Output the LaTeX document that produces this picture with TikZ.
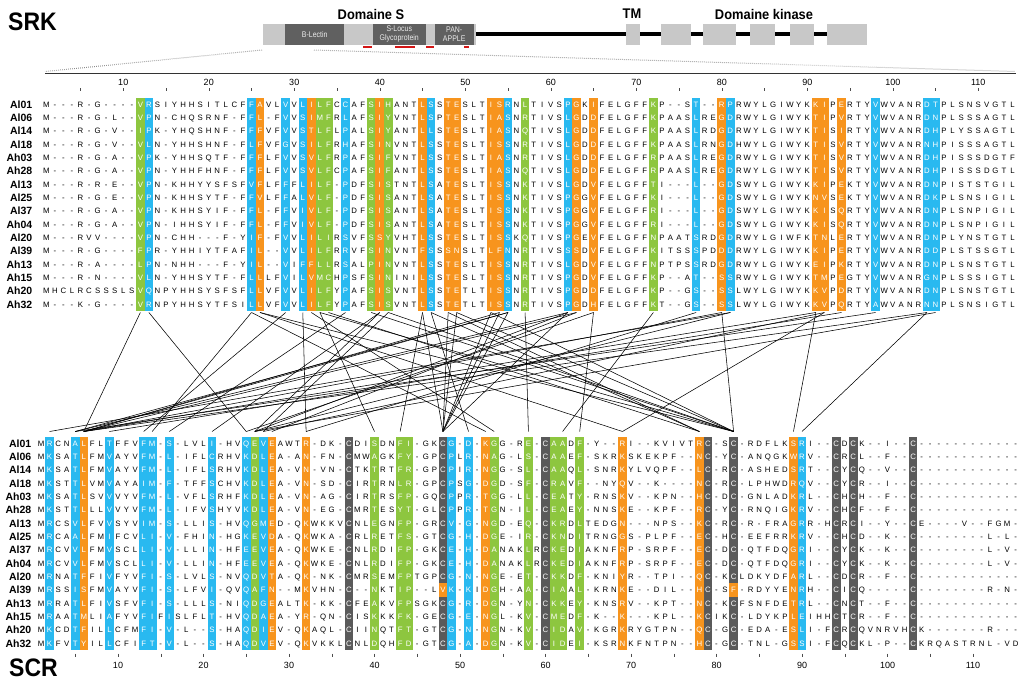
\documentclass[tikz,border=0pt]{standalone}
\usepackage{fontspec}
\setmainfont{Liberation Sans}
\setsansfont{Liberation Sans}
\definecolor{sgreen}{RGB}{141,198,63}
\definecolor{sblue}{RGB}{41,185,240}
\definecolor{sorange}{RGB}{247,148,29}
\definecolor{sgray}{RGB}{90,90,90}
\definecolor{barlight}{RGB}{200,200,200}
\definecolor{bardark}{RGB}{96,96,96}
\definecolor{redmark}{RGB}{210,20,20}
\newcommand\seqfont{\fontsize{7.8}{8}\selectfont}
\newcommand\labfont{\bfseries\fontsize{10.5}{11}\selectfont}
\newcommand\rulfont{\fontsize{9}{9}\selectfont}
\newcount\seqpos
\newcount\seqrow
\def\xzerot{37.75}
\def\xzerob{32.5}
\def\yzerot{104.3}
\def\yzerob{443.3}
\def\drawseq#1#2#3{\def\seqside{#1}\seqrow=#2\relax\seqpos=0\relax
  \pgfmathsetmacro\rowy{\csname yzero#1\endcsname+13.333*(#2-1)}%
  \drawseqA#3\relax}
\def\drawseqA#1{\ifx#1\relax\let\seqnext\relax\else\def\seqnext{\placechar{#1}\drawseqA}\fi\seqnext}
\def\placechar#1{\advance\seqpos by 1\relax
  \ifcsname col\seqside\the\seqpos\endcsname\def\chcol{white}\else\def\chcol{black}\fi
  \pgfmathsetmacro\chx{\csname xzero\seqside\endcsname+8.55*\the\seqpos}%
  \node[seqch,text=\chcol] (\seqside\the\seqrow-\the\seqpos) at (\chx,\rowy+2.8) {#1};}
\begin{document}
\begin{tikzpicture}[x=1pt,y=-1pt,
  seqch/.style={anchor=base,inner sep=0pt,outer sep=0pt,font=\seqfont},
  lab/.style={anchor=base east,inner sep=0pt,font=\labfont},
  rulnum/.style={anchor=base,inner sep=0pt,font=\rulfont},
  conn/.style={line width=0.55pt,black},
  tickmark/.style={line width=0.5pt,black!70},
  dotline/.style={line width=1pt,black!45,dash pattern=on 0.7pt off 1.3pt},
  boxlab/.style={inner sep=0pt,align=center,text=black!8,font=\fontsize{8.2}{8.6}\selectfont},
  head/.style={inner sep=0pt,font=\bfseries\fontsize{14}{14}\selectfont},
  big/.style={inner sep=0pt,anchor=base west,font=\bfseries\fontsize{23}{23}\selectfont}]
\useasboundingbox (0,0) rectangle (1024,683);
\fill[white] (0,0) rectangle (1024,683);
% ---------- header ----------
\node[big] (srk) at (8,30) {\scalebox{1}[1.1]{SRK}};
\node[big] (scr) at (9,676) {\scalebox{1}[1.1]{SCR}};
\node[head] (domS) at (371,14) {\scalebox{0.92}[1]{Domaine S}};
\node[head] (tm) at (632,14) {\scalebox{0.92}[1]{TM}};
\node[head] (domK) at (764,14) {\scalebox{0.92}[1]{Domaine kinase}};
\draw[line width=3.5pt] (476,34.2) -- (827,34.2);
\fill[barlight] (263,24) rectangle (476,44.5);
\fill[barlight] (625.5,24) rectangle (640,44.5);
\fill[barlight] (661,24) rectangle (691,44.5);
\fill[barlight] (703,24) rectangle (736,44.5);
\fill[barlight] (749.5,24) rectangle (775,44.5);
\fill[barlight] (790,24) rectangle (814,44.5);
\fill[barlight] (826.6,24) rectangle (867,44.5);
\fill[bardark] (285.4,24) rectangle (344,44.5);
\fill[bardark] (373,24) rectangle (425.6,44.5);
\fill[bardark] (434.5,24) rectangle (474,44.5);
\node[boxlab] (blec) at (314.7,34.2) {\scalebox{0.85}[1]{B-Lectin}};
\node[boxlab] (sloc) at (399.3,34.2) {\scalebox{0.85}[1]{S-Locus}\\\scalebox{0.85}[1]{Glycoprotein}};
\node[boxlab] (pan) at (454.2,34.2) {\scalebox{0.85}[1]{PAN-}\\\scalebox{0.85}[1]{APPLE}};
\fill[redmark] (363,46) rectangle (372,48);
\fill[redmark] (395,46) rectangle (414.7,48);
\fill[redmark] (425.6,46) rectangle (433.7,48);
\fill[redmark] (464,46) rectangle (469,48);
\coordinate (dl1) at (262,50); \coordinate (dl2) at (45,71.5);
\coordinate (dr1) at (314,50); \coordinate (dr2) at (1015,71.5);
\draw[dotline] (dl1) -- (dl2);
\draw[dotline] (dr1) -- (dr2);
\coordinate (rl1) at (45,73.6); \coordinate (rl2) at (1016,73.6);
\draw[line width=1.4pt,black!80] (rl1) -- (rl2);
% ---------- rulers ----------
\foreach \n in {10,20,...,110} {
  \node[rulnum] (rt\n) at ({37.75+8.55*\n},85.6) {\n};
  \node[rulnum] (rb\n) at ({32.5+8.55*\n},668) {\n};}
\foreach \n in {5,10,...,110} {
  \draw[tickmark] ({37.75+8.55*\n},88.3) -- ({37.75+8.55*\n},91);
  \draw[tickmark] ({32.5+8.55*\n},653.7) -- ({32.5+8.55*\n},657);}
% ---------- coloured columns ----------
\foreach \p/\c in {12/sgreen,13/sblue,25/sblue,26/sorange,29/sblue,31/sblue,32/sorange,33/sgreen,34/sgreen,36/sblue,39/sgreen,40/sorange,41/sgreen,45/sorange,46/sblue,48/sorange,49/sorange,53/sorange,54/sorange,55/sblue,57/sgreen,62/sblue,63/sorange,65/sorange,72/sgreen,77/sblue,80/sorange,81/sblue,91/sorange,92/sorange,94/sorange,98/sblue,104/sblue,105/sblue} {
  \fill[\c] ({37.75+8.55*\p-4.3},97.6) rectangle ({37.75+8.55*\p+4.3},311);
  \expandafter\xdef\csname colt\p\endcsname{\c}
  \coordinate (T\p) at ({37.75+8.55*\p},312.5);}
\foreach \p/\c in {2/sblue,5/sblue,6/sorange,9/sblue,13/sblue,14/sblue,16/sblue,21/sblue,25/sblue,26/sgreen,27/sblue,28/sorange,32/sorange,37/sgray,40/sgreen,43/sgreen,44/sgreen,48/sgray,49/sblue,51/sblue,53/sorange,54/sgreen,58/sgreen,60/sgray,61/sgreen,62/sgreen,64/sgreen,69/sorange,78/sorange,79/sgray,82/sgray,89/sorange,90/sblue,94/sgray,96/sgray,103/sgray} {
  \fill[\c] ({32.5+8.55*\p-4.3},436.6) rectangle ({32.5+8.55*\p+4.3},650);
  \expandafter\xdef\csname colb\p\endcsname{\c}
  \coordinate (B\p) at ({32.5+8.55*\p},431.5);}
% exceptions (row Al39 of SCR)
\fill[sorange] ({32.5+8.55*48-4.3},{443.3+13.333*11-6.67}) rectangle ({32.5+8.55*48+4.3},{443.3+13.333*11+6.67});
\fill[sorange] ({32.5+8.55*82-4.3},{443.3+13.333*11-6.67}) rectangle ({32.5+8.55*82+4.3},{443.3+13.333*11+6.67});
% ---------- labels ----------
\foreach \n [count=\i] in {Al01,Al06,Al14,Al18,Ah03,Ah28,Al13,Al25,Al37,Ah04,Al20,Al39,Ah13,Ah15,Ah20,Ah32} {
  \node[lab] (lt\i) at (32.5,{104.3+13.333*(\i-1)+3.75}) {\n};
  \node[lab] (lb\i) at (31.5,{443.3+13.333*(\i-1)+3.75}) {\n};}
% ---------- SRK sequences ----------
\drawseq{t}{1}{M---R-G---- VRSIYHHSITLCF FAVLVVLILFCC AFSIHANTLSSTESLTISRNLTIVSPGKIFELGFF KP--ST--RP RWYLGIWYK KIPERTYV WVANR DTPLSNSVGTL}
\drawseq{t}{2}{M---R-G-L-- VPN-CHQSRNF-F FL-FVVSIMFRL AFSIYVNTLSPTESLTIASNRTIVSLGDDFELGFF KPAASLREGD RWYLGIWYK TIPVRTYV WVANR DNPLSSSAGTL}
\drawseq{t}{3}{M---R-G-V-- IPK-YHQSHNF-F FFVFVVSTLFLP ALSIYANTLLSTESLTIASNQTIVSLGDDFELGFF KPAASLRDGD RWYLGIWYK TISIRTYV WVANR DHPLYSSAGTL}
\drawseq{t}{4}{M---R-G-V-- VLN-YHHSHNF-F LFVFGVSILFRH AFSINVNTLSSTESLTISSNRTIVSLGDDFELGFF KPAASLRNGD HWYLGIWYK TISVRTYV WVANR NHPISSSAGTL}
\drawseq{t}{5}{M---R-G-A-- VPK-YHHSQTF-F FFLFVVSVLFRP AFSIFVNTLSSTESLTIASNRTIVSLGDDFELGFF RPAASLREGD RWYLGIWYK TISVRTYV WVANR DHPISSSDGTF}
\drawseq{t}{6}{M---R-G-A-- VPN-YHHFHNF-F FFLFVVSVLFCP AFSIFANTLSSTESLTIASNQTIVSLGDDFELGFF RPAASLREGD RWYLGIWYK TISVRTYV WVANR DHPISSSDGTL}
\drawseq{t}{7}{M---R-R-E-- VPN-KHHYYSFSF VFLFFFLILF-P DFSISTNTLSATESLTISSNKTIVSLGDVFELGFF TI---L--GD SWYLGIWYK KIPEKTYV WVANR DNPISTSTGIL}
\drawseq{t}{8}{M---R-G-E-- VPN-KHHSYTF-F FVLFFALVLF-P DFSISANTLSATESLTISSNKTIVSPGGVFELGFF KI---L--GD SWYLGIWYK NVSEKTYV WVANR DKPLSNSIGIL}
\drawseq{t}{9}{M---R-G-A-- VPN-KHHSYIF-F FL-FFVIVLF-P DFSISANTLSATESLTISSNKTIVSPGGVFELGFF RI---L--GD SWYLGIWYK KISQRTYV WVANR DNPLSNPIGIL}
\drawseq{t}{10}{M---R-G-A-- VPN-IHHSYIF-F FL-FFVIVLF-P DFSISANTLSATESLTISSNKTIVSPGGVFELGFF RI---L--GD SWYLGIWYK KISQRTYV WVANR DNPLSNPIGIL}
\drawseq{t}{11}{M---RVV---- VPN-CHH---F-Y IF-FVVLILIRS VFSSYVHTLSSTESLTISSKQTIVSPGEVFELGFF NPAATSRDGD RWYLGIWFK TNLERTYV WVANR DNPLYNSTGTL}
\drawseq{t}{12}{M---R-G---- FPR-YHHIYTFAF IL--VVLILFRR VFSINVNTFSSSNSLTLFNNRTIVSSSDVFELGFF KITSSSPDDD RWYLGIWYK KIPERTYV WVANR DDPLSTSSGTL}
\drawseq{t}{13}{M---R-A---- LPN-NHH---F-Y IL--VIFFLLRS ALPINVNTLSSTESLTISSNRTIVSLGDVFELGFF NPTPSSRDGD RWYLGIWYK EIPKRTYV WVANR DNPLSNSTGTL}
\drawseq{t}{14}{M---R-N---- VLN-YHHSYTF-F LLLFVILVMCHP SFSININILSSTESLTISSNRTIVSPGDVFELGFF KP--AT--SS RWYLGIWYK TMPEGTYV WVANR GNPLSSSIGTL}
\drawseq{t}{15}{MHCLRCSSSLS VQNPYHHSYSFSF LLVFVVLILFYP AFSISVNTLSSTETLTISSNRTIVSPGDDFELGFF KP--GS--SS LWYLGIWYK KVPDRTYV WVANR DNPLSNSTGTL}
\drawseq{t}{16}{M---K-G---- VRNPYHHSYTFSI LLVFVVLILFYP AFSISVNTLSSTETLTISSNRTIVSPGDHFELGFF KT--GS--SS LWYLGIWYK KVPQRTYA WVANR NNPLSNSIGTL}
% ---------- SCR sequences ----------
\drawseq{b}{1}{MRCNALFLTFFVFM -S-LVLI-HV QEVEAWTR-DK- CDISDNFI-GK CG-D-KGG-RE- CAADF-Y--RI--KVIVT RC-SC-RDFLKSRI --CDCK--I--C ------------}
\drawseq{b}{2}{MKSATLFMVAYVFM -L-IFLCRHV KDLEA-AN-FN- CMWAGKFY-GP CPLR-NAG-LS- CAAEF-SKRKSKEKPF-- NC-YC-ANQGKWRV --CRCL--F--C ------------}
\drawseq{b}{3}{MKSATLFMVAYVFM -L-IFLSRHV KDLEA-VN-VN- CTKTRTFR-GP CPIR-NGG-SL- CAAQL-SNRKYLVQPF-- LC-RC-ASHEDSRT --CYCQ--V--C ------------}
\drawseq{b}{4}{MKSTTLVMVAYAIM -F-TFFSCHV KDLEA-VN-SD- CIRTRNLR-GP CPSG-DGD-SF- CRAVF--NYQV--K---- NC-RC-LPHWDRQV --CYCR--I--C ------------}
\drawseq{b}{5}{MKSATLSVVVYVFM -L-VFLSRHF KDLEA-VN-AG- CIRTRSFP-GQ CPPR-TGG-LL- CEATY-RNSKV--KPN-- HC-DC-GNLADKRL --CHCH--F--C ------------}
\drawseq{b}{6}{MKSTTLLLVVYVFM -L-IFVSHYV KDLEA-VN-EG- CMRTESYT-GL CPPR-TGN-IL- CEAEY-NNSKE--KPF-- RC-YC-RNQIGKRV --CHCF--F--C ------------}
\drawseq{b}{7}{MRCSVLFVVSYVIM -S-LLIS-HV QGMED-QKWKKV CNLEGNFP-GR CV-G-NGD-EQ- CKRDLTEDGN---NPS-- KC-RC-R-FRAGRR -HCRCI--Y--C E----V--FGM-}
\drawseq{b}{8}{MRCAALFMIFCVLI -V-FHIN-HG KEVDA-QKWKA- CRLRETFS-GT CG-H-DGE-IR- CKNDITRNGGS-PLPF-- EC-HC-EEFRRKRV --CHCD--K--C --------L-L-}
\drawseq{b}{9}{MRCVVLFMVSCLLI -V-LLIN-HF EEVEA-QKWKE- CNLRDIFP-GK CE-H-DANAKLR CKEDIAKNFRP-SRPF-- EC-DC-QTFDQGRI --CYCK--K--C --------L-V-}
\drawseq{b}{10}{MRCVVLFMVSCLLI -V-LLIN-HF EEVEA-QKWKE- CNLRDIFP-GK CE-H-DANAKLR CKEDIAKNFRP-SRPF-- EC-DC-QTFDQGRI --CYCK--K--C --------L-V-}
\drawseq{b}{11}{MRNATFFIVFYVFI -S-LVLS-NV QDVTA-QK-NK- CMRSEMFPTGP CG-N-NGE-ET- CKKDF-KNIYR--TPI-- QC-KCLDKYDFARL --CDCR--F--C ------------}
\drawseq{b}{12}{MRSSISFMVAYVFI -S-LFVI-QV QAFN--MKVHN- C--NKTIP--L VK-KIDGH-AA- CIAAL-KRNKE--DIL-- HC-SF-RDYYENRH --CICQ-----C --------R-N-}
\drawseq{b}{13}{MRRATLFIVSFVFI -S-LLLS-NI QDGEALTK-KK- CFEAKVFPSGK CG-R-DGN-YN- CKKEY-KNSRV--KPT-- NC-KCFSNFDETRL --CNCT--F--C ------------}
\drawseq{b}{14}{MRAATMLIAFYVFI FISLFLT-HV QDAEA-YR-QN- CISKKKFK-GE CG-E-NGL-KV- CMEDF-K--K---KPL-- KCIKC-LDYKPLEI HHCTCR--F--C ------------}
\drawseq{b}{15}{MKCDTFILLCFMFI -V-L--S-HA QDIEV-QKAQL- CIINQTFT-GT CG-N-NGN-KV- CIDAV-KGRKRYGTPN-- QC-GC-EDA-ESLI -FCRCQVNRVHC K-------R---}
\drawseq{b}{16}{MKFVTYILLCFIFT -V-L--S-HA QDVEV-QKVKKL CNLDQHFD-GT CG-A-DGN-KV- CIDEI-KSRNKFNTPN-- HC-GC-TNL-GSSI -FCQCKL-P--C KRQASTRNL-VD}
% ---------- connectors ----------
\foreach \a/\b in {12/6,13/25,25/14,25/53,26/69,26/82,29/13,31/32,32/54,33/40,33/82,34/78,36/16,39/82,40/21,40/26,41/27,41/82,45/43,45/48,46/78,48/48,49/48,49/82,53/48,53/82,54/48,54/6,55/48,55/5,55/6,57/58,62/26,62/48,62/5,63/6,63/28,65/25,65/64,72/62,77/32,80/82,80/6,81/2,81/26,91/89,91/6,92/69,92/27,94/9,98/5,104/90,104/6,105/26,46/51,48/78}
  \draw[conn] (T\a) -- (B\b);
\end{tikzpicture}
\end{document}
